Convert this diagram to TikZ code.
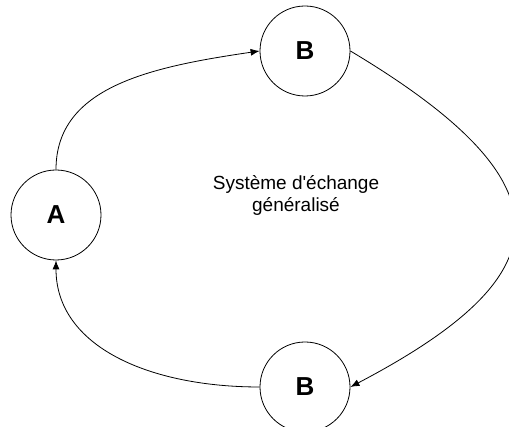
\documentclass[tikz,border=0pt]{standalone}
\usepackage{fontspec}
\setmainfont{Liberation Sans}
\usetikzlibrary{arrows.meta}
\tikzset{
  actor/.style={draw, circle, minimum size=90pt, inner sep=0pt, line width=0.8pt,
    font=\fontsize{26}{26}\selectfont\bfseries},
  flow/.style={line width=0.8pt, -{Latex[length=9pt,width=7pt]}}
}
\begin{document}
\begin{tikzpicture}[x=1pt,y=1pt]
\useasboundingbox (0,0) rectangle (509,427);
\clip (0,0) rectangle (509,427);
% Drawing actors
\node[actor] (A) at (56,212) {A};
\node[actor] (Btop) at (305,376) {B};
\node[actor] (Bbot) at (305,40) {B};
% Caption in the middle
\node[align=center, font=\fontsize{19}{22}\selectfont] (sys) at (296,232) {Système d\textquotesingle échange\\généralisé};
% Drawing exchanges
\draw[flow] (A.north) .. controls (56,340) and (150,360) .. (Btop.west);
\draw[flow] (Btop.east) .. controls (578,240) and (560,150) .. (Bbot.east);
\draw[flow] (Bbot.west) .. controls (150,40) and (56,80) .. (A.south);
\end{tikzpicture}
\end{document}
